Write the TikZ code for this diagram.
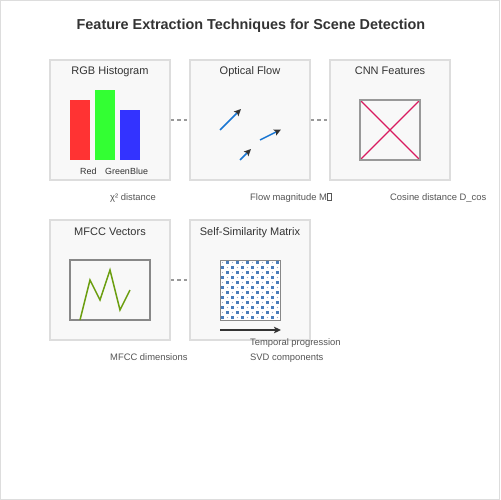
\documentclass[tikz,border=0pt]{standalone}
\usepackage{fontspec}
\setmainfont{Liberation Sans}
\usetikzlibrary{arrows.meta}
\definecolor{boxfill}{HTML}{F8F8F8}
\definecolor{boxline}{HTML}{DDDDDD}
\definecolor{titlecol}{HTML}{333333}
\definecolor{labelcol}{HTML}{555555}
\definecolor{dashcol}{HTML}{999999}
\definecolor{barred}{HTML}{FF3333}
\definecolor{bargreen}{HTML}{33FF33}
\definecolor{barblue}{HTML}{3333FF}
\definecolor{flowblue}{HTML}{1976D2}
\definecolor{arrowdark}{HTML}{333333}
\definecolor{cnnpink}{HTML}{D81B60}
\definecolor{framegray}{HTML}{888888}
\definecolor{mfccgreen}{HTML}{6B9E10}
\definecolor{dotblue}{HTML}{4A7DBA}
\definecolor{dotgray}{HTML}{A0B0C8}
\begin{document}
\begin{tikzpicture}[x=1bp,y=-1bp,
  panel/.style={draw=boxline, line width=1.3bp, fill=boxfill, minimum width=120bp, minimum height=120bp, inner sep=0pt},
  paneltitle/.style={anchor=base, text=titlecol, font=\fontsize{11bp}{13bp}\selectfont, inner sep=0pt},
  smalllabel/.style={anchor=base west, text=labelcol, font=\fontsize{9.4bp}{11bp}\selectfont, inner sep=0pt},
  barlabel/.style={anchor=base west, text=titlecol, font=\fontsize{8.9bp}{11bp}\selectfont, inner sep=0pt},
  link/.style={draw=dashcol, line width=1.4bp, dash pattern=on 3.3bp off 3.3bp},
  flowarrow/.style={draw=flowblue, line width=1.5bp, -{Stealth[length=7bp,width=6.5bp,inset=1.5bp,color=arrowdark]}},
  frame/.style={draw=framegray, line width=1.5bp}
]
\useasboundingbox (0,0) rectangle (500,500);
\draw[draw=boxline, line width=1bp, fill=white] (0.5,0.5) rectangle (499.5,499.5);

% title
\node[anchor=base, text=titlecol, font=\bfseries\fontsize{14.4bp}{16bp}\selectfont, inner sep=0pt] (title) at (251,30) {Feature Extraction Techniques for Scene Detection};

% panels
\node[panel] (hist) at (110,120) {};
\node[panel] (flow) at (250,120) {};
\node[panel] (cnn) at (390,120) {};
\node[panel] (mfcc) at (110,280) {};
\node[panel] (ssm) at (250,280) {};

% connectors
\draw[link] (hist.east) -- (flow.west);
\draw[link] (flow.east) -- (cnn.west);
\draw[link] (mfcc.east) -- (ssm.west);

% panel titles
\node[paneltitle] (t1) at (110,75) {RGB Histogram};
\node[paneltitle] (t2) at (250,75) {Optical Flow};
\node[paneltitle] (t3) at (390,75) {CNN Features};
\node[paneltitle] (t4) at (110,235) {MFCC Vectors};
\node[paneltitle] (t5) at (250,235) {Self-Similarity Matrix};

% histogram bars
\fill[barred] (70,100) rectangle (90,160);
\fill[bargreen] (95,90) rectangle (115,160);
\fill[barblue] (120,110) rectangle (140,160);
\node[barlabel] (lr) at (80,175) {Red};
\node[barlabel] (lg) at (105,175) {Green};
\node[barlabel] (lb) at (130,175) {Blue};

% optical flow arrows
\coordinate (a1s) at (220,130); \coordinate (a1e) at (241,109);
\coordinate (a2s) at (260,140); \coordinate (a2e) at (281,129.5);
\coordinate (a3s) at (240,160); \coordinate (a3e) at (251,149);
\draw[flowarrow] (a1s) -- (a1e);
\draw[flowarrow] (a2s) -- (a2e);
\draw[flowarrow] (a3s) -- (a3e);

% CNN features
\draw[cnnpink, line width=1.3bp] (360,100) -- (420,160);
\draw[cnnpink, line width=1.3bp] (360,160) -- (420,100);
\draw[draw=dashcol, line width=2bp] (360,100) rectangle (420,160);

% MFCC
\draw[frame] (70,260) rectangle (150,320);
\draw[mfccgreen, line width=1.5bp, line join=miter] (80,320) -- (90,280) -- (100,300) -- (110,270) -- (120,310) -- (130,290);

% self-similarity matrix
\fill[white] (220,260) rectangle (280,320);
\foreach \j in {0,...,11} {
  \pgfmathsetmacro{\yy}{262.5+5*\j}
  \pgfmathsetmacro{\off}{mod(\j,2)==0 ? 5 : 0}
  \foreach \i in {0,...,5} {
    \fill[dotblue] ({222.5+\off+10*\i-1.2},{\yy-1.2}) rectangle ++(2.4,2.4);
    \fill[dotgray] ({227.5-\off+10*\i},\yy) circle (0.7bp);
  }
}
\draw[draw=framegray, line width=1bp] (220,260) rectangle (280,320);
\coordinate (ts) at (220,330); \coordinate (te) at (281,330);
\draw[draw=arrowdark, line width=1.5bp, -{Stealth[length=7bp,width=6.5bp,inset=1.5bp]}] (ts) -- (te);

% labels
\node[smalllabel] (l1) at (110,200) {χ² distance};
\node[smalllabel] (l2) at (250,200) {Flow magnitude M{\setlength\fboxsep{0pt}\setlength\fboxrule{0.4bp}\fbox{\rule{0pt}{7bp}\hspace{4bp}}}};
\node[smalllabel] (l3) at (390,200) {Cosine distance D\_cos};
\node[smalllabel] (l4) at (110,360) {MFCC dimensions};
\node[smalllabel] (l5) at (250,345) {Temporal progression};
\node[smalllabel] (l6) at (250,360) {SVD components};
\end{tikzpicture}
\end{document}
